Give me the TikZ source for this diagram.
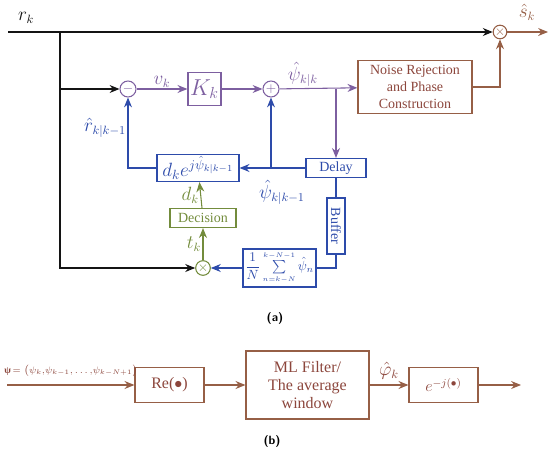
\documentclass[tikz,border=0pt]{standalone}
\usepackage{amsmath}
\usepackage{fontspec}
\setmainfont{Liberation Serif}
\usetikzlibrary{arrows.meta, positioning, calc}
\definecolor{kfblack}{RGB}{20,20,20}
\definecolor{kfpurple}{RGB}{125,95,160}
\definecolor{kfblue}{RGB}{45,75,170}
\definecolor{kfgreen}{RGB}{115,140,60}
\definecolor{kfbrown}{RGB}{150,95,70}
\definecolor{kftext}{RGB}{140,70,60}
\tikzset{
  block/.style    = {rectangle, draw, line width=0.9pt, align=center, inner sep=1pt,
                     font=\fontsize{10.5}{12.5}\selectfont},
  junction/.style = {circle, draw, line width=0.8pt, inner sep=0pt, font=\normalsize},
  sig/.style      = {-{Stealth[length=2.6mm,width=2.1mm]}, line width=0.8pt},
  wire/.style     = {line width=0.8pt},
  siglab/.style   = {font=\fontsize{13.5}{15}\selectfont, inner sep=1pt},
  sublabel/.style = {font=\sffamily\bfseries\small},
}
\begin{document}
\begin{tikzpicture}[x=0.75pt, y=-0.75pt]
\useasboundingbox (0,0) rectangle (550,453);

% ---------- (a) forward path ----------
\coordinate (rin) at (8,32);
\coordinate (rsplit) at (60,32);
\coordinate (sout) at (548,32);
\node[junction, kfbrown, minimum size=10pt] (topmul) at (500,32) {$\times$};
\node[junction, kfpurple, minimum size=12pt] (minus) at (128,89) {$-$};
\node[block, kfpurple, minimum width=24.75pt, minimum height=24.75pt,
      font=\LARGE] (gain) at (204.5,89) {$K_k$};
\node[junction, kfpurple, minimum size=12pt] (plus) at (271,89) {$+$};
\node[block, kfbrown, text=kftext, minimum width=85.5pt, minimum height=39.75pt]
      (noise) at (415,87) {Noise Rejection\\and Phase\\Construction};

% ---------- (a) feedback path ----------
\node[block, kfblue, minimum width=45pt, minimum height=14.25pt] (delay) at (336,168) {Delay};
\node[block, kfblue, minimum width=61.5pt, minimum height=20.25pt,
      font=\Large] (rot) at (198,168) {$d_k e^{j\hat{\psi}_{k|k-1}}$};
\node[block, kfgreen, minimum width=49.5pt, minimum height=14.25pt] (decision) at (203,218) {Decision};
\node[block, kfblue, rotate=-90, minimum width=42pt, minimum height=13.5pt] (buffer) at (336,226) {Buffer};
\node[block, kfblue, minimum width=54.75pt, minimum height=28.5pt, inner sep=0.5pt,
      font=\normalsize] (avg) at (279.5,268)
      {$\dfrac{1}{N}\sum\limits_{\scriptscriptstyle n=k-N}^{\scriptscriptstyle k-N-1}\hat{\psi}_n$};
\node[junction, kfgreen, minimum size=11pt] (botmul) at (203,268) {$\times$};

% ---------- Edges: forward ----------
\draw[sig, kfblack] (rin) -- (topmul);
\node[siglab, kfblack] (rlab) at (26,18) {$r_k$};
\draw[sig, kfblack] (rsplit) |- (botmul);
\draw[sig, kfblack] (rsplit |- minus) -- (minus);
\draw[sig, kfpurple] (minus) -- node[siglab, above] {$v_k$} (gain);
\draw[sig, kfpurple] (gain) -- (plus);
\draw[sig, kfpurple] (plus) -- node[siglab, above, pos=0.3] {$\hat{\psi}_{k|k}$} (noise);
\draw[sig, kfpurple] (delay.north |- plus) -- (delay);
\draw[sig, kfbrown] (noise.east) -| (topmul);
\draw[sig, kfbrown] (topmul) -- (sout);
\node[siglab, kfbrown] (slab) at (527,12) {$\hat{s}_k$};

% ---------- Edges: feedback ----------
\draw[sig, kfblue] (delay) -- (rot);
\draw[sig, kfblue] (plus |- delay) -- (plus);
\node[siglab, kfblue] (psilab) at (282,192) {$\hat{\psi}_{k|k-1}$};
\draw[sig, kfblue] (rot.west) -| (minus);
\node[siglab, kfblue] (rhatlab) at (105,128) {$\hat{r}_{k|k-1}$};
\draw[sig, kfgreen] (decision) -- node[siglab, left] {$d_k$} (rot);
\draw[sig, kfgreen] (botmul) -- node[siglab, left] {$t_k$} (decision);
\draw[wire, kfblue] (delay) -- (buffer);
\draw[wire, kfblue] (buffer) |- (avg);
\draw[sig, kfblue] (avg) -- (botmul);

\node[sublabel] (capa) at (275,318) {(a)};

% ---------- (b) ----------
\coordinate (bin) at (7,385);
\coordinate (bout) at (521,385);
\node[block, kfbrown, text=kftext, minimum width=51.75pt, minimum height=26.25pt,
      font=\fontsize{12}{14}\selectfont] (re) at (169.5,385) {Re($\bullet$)};
\node[block, kfbrown, text=kftext, minimum width=92.25pt, minimum height=51pt,
      font=\fontsize{12}{13.5}\selectfont] (ml) at (307.5,385) {ML Filter/\\The average\\window};
\node[block, kfbrown, text=kftext, minimum width=51.75pt, minimum height=26.25pt,
      font=\large] (expo) at (443.5,385) {$e^{-j(\bullet)}$};
\draw[sig, kfbrown] (bin) -- (re);
\node[kftext, font=\fontsize{7.2}{9}\selectfont, inner sep=0pt, anchor=west] (psiin) at (4,371)
  {{\bfseries ψ}$\,=\bigl(\psi_k{,}\psi_{k-1}{,}\ldots{,}\psi_{k-N+1}\bigr)$};
\draw[sig, kfbrown] (re) -- (ml);
\draw[sig, kfbrown] (ml) -- node[siglab, above=3pt, kftext] {$\hat{\varphi}_k$} (expo);
\draw[sig, kfbrown] (expo) -- (bout);

\node[sublabel] (capb) at (272,441) {(b)};

\end{tikzpicture}
\end{document}
